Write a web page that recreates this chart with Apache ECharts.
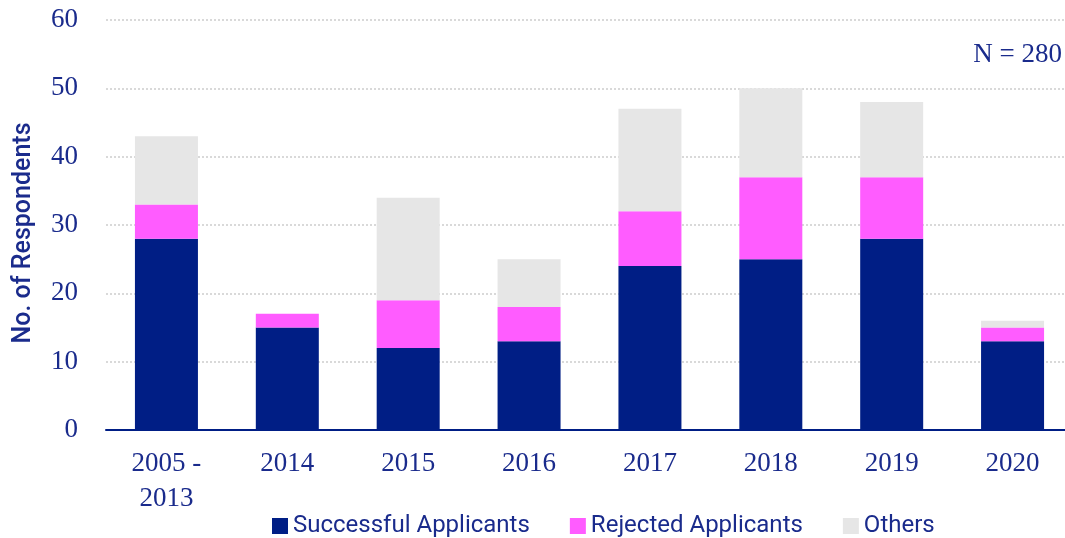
<!DOCTYPE html>
<html>
<head>
<meta charset="utf-8">
<script src="https://cdn.jsdelivr.net/npm/echarts@6/dist/echarts.min.js"></script>
<style>
  html, body { margin: 0; padding: 0; background: #fff; }
  #chart { width: 1065px; height: 538px; }
</style>
</head>
<body>
<div id="chart"></div>
<script>
// Data
const categories = ['2005 -\n2013', '2014', '2015', '2016', '2017', '2018', '2019', '2020']
const successful = [28, 15, 12, 13, 24, 25, 28, 13]
const rejected = [5, 2, 7, 5, 8, 12, 9, 2]
const others = [10, 0, 15, 7, 15, 13, 11, 1]
const yTicks = { min: 0, max: 60, interval: 10 }

const navy = '#001e85'
const textColor = '#1a2b8c'
const serif = '"Liberation Serif", serif'
const sans = 'Roboto, sans-serif'

const chart = echarts.init(document.getElementById('chart'))

const barSeries = (name, data, color) => ({
  name,
  type: 'bar',
  stack: 'total',
  barWidth: 63,
  data,
  itemStyle: { color },
  emphasis: { disabled: true },
})

chart.setOption({
  animation: false,
  textStyle: { fontFamily: serif, color: textColor },
  // plot runs slightly past the right edge in the reference
  grid: {
    left: 106,
    width: 967,
    top: 20,
    bottom: 108,
    containLabel: false,
    outerBoundsMode: 'none',
  },
  legend: {
    top: 509,
    left: 267,
    itemWidth: 16,
    itemHeight: 16,
    itemGap: 40,
    icon: 'rect',
    textStyle: { fontFamily: sans, fontSize: 24, color: textColor },
    data: ['Successful Applicants', 'Rejected Applicants', 'Others'],
  },
  xAxis: {
    type: 'category',
    data: categories,
    axisLine: { lineStyle: { color: navy, width: 2 } },
    axisTick: { show: false },
    axisLabel: {
      margin: 16,
      fontFamily: serif,
      fontSize: 27,
      lineHeight: 35,
      color: textColor,
    },
  },
  yAxis: {
    type: 'value',
    min: yTicks.min,
    max: yTicks.max,
    interval: yTicks.interval,
    name: 'No. of Respondents',
    nameLocation: 'middle',
    nameGap: 70,
    nameTextStyle: {
      fontFamily: sans,
      fontSize: 25,
      fontWeight: 500,
      color: textColor,
      padding: [0, 16, 0, 0],
    },
    axisLine: { show: false },
    axisTick: { show: false },
    axisLabel: { margin: 28, fontFamily: serif, fontSize: 27, color: textColor },
    splitLine: { lineStyle: { color: '#d9d9d9', type: [2, 2], width: 2 } },
  },
  graphic: [
    {
      type: 'text',
      right: 3,
      top: 41,
      style: { text: 'N = 280', font: '27px "Liberation Serif", serif', fill: textColor },
    },
  ],
  series: [
    barSeries('Successful Applicants', successful, navy),
    barSeries('Rejected Applicants', rejected, '#ff5cff'),
    barSeries('Others', others, '#e6e6e6'),
  ],
})
</script>
</body>
</html>
